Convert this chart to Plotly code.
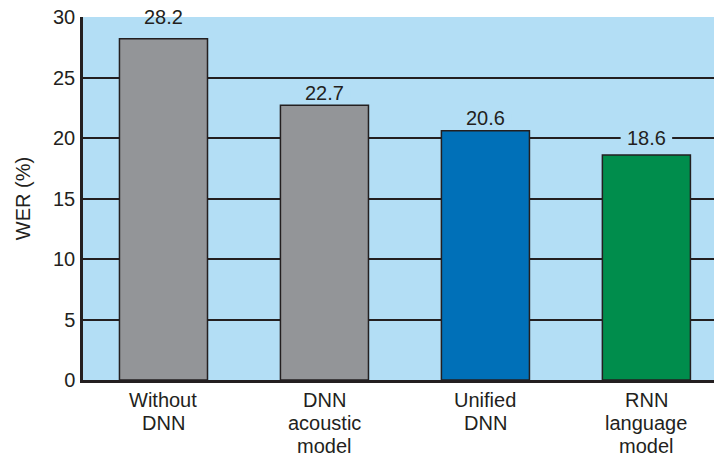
import plotly.graph_objects as go

categories = [["Without", "DNN"], ["DNN", "acoustic", "model"], ["Unified", "DNN"], ["RNN", "language", "model"]]
wer = [28.2, 22.7, 20.6, 18.6]
value_labels = ["28.2", "22.7", "20.6", "18.6"]

bar_colors = ["#939598", "#939598", "#0070b8", "#008d4c"]
plot_bg = "#b3def5"
ink = "#231f20"
FONT = "Liberation Sans, Arial, sans-serif"
FS = 20
# vertical placement of the value labels (label centre, in axis units above the bar top)
label_lift = [1.8, 1.02, 1.05, 1.4]

x = list(range(len(categories)))

fig = go.Figure()
fig.add_trace(go.Bar(
    x=x, y=wer, width=0.547,
    marker=dict(color=bar_colors, line=dict(color=ink, width=1.5)),
    hoverinfo="skip",
))

shapes = []
annotations = []
for i, (v, t, lift) in enumerate(zip(wer, value_labels, label_lift)):
    yc = v + lift
    annotations.append(dict(
        x=i, y=yc, xref="x", yref="y", text=t, showarrow=False,
        font=dict(family=FONT, size=FS, color=ink),
        xanchor="center", yanchor="middle",
    ))
    # mask the gridline behind the label
    shapes.append(dict(type="rect", xref="x", yref="y", layer="above",
                       x0=i - 0.16, x1=i + 0.16, y0=yc - 0.35, y1=min(yc + 0.35, 30),
                       fillcolor=plot_bg, line=dict(width=0)))
    if yc + 0.35 > 30:
        shapes.append(dict(type="rect", xref="x", yref="y", layer="above",
                           x0=i - 0.16, x1=i + 0.16, y0=30, y1=yc + 0.35,
                           fillcolor="white", line=dict(width=0)))

# category labels, one annotation per line (tighter line spacing than tick labels)
for i, lines in enumerate(categories):
    for k, line in enumerate(lines):
        annotations.append(dict(
            x=i, y=0, xref="x", yref="paper", text=line, showarrow=False,
            font=dict(family=FONT, size=FS, color=ink),
            xanchor="center", yanchor="middle", yshift=-20 - 23 * k,
        ))

fig.update_layout(
    width=714, height=459,
    margin=dict(l=83, r=0, t=17, b=79),
    paper_bgcolor="white", plot_bgcolor=plot_bg,
    showlegend=False,
    font=dict(family=FONT, size=FS, color=ink),
    shapes=shapes, annotations=annotations,
    xaxis=dict(
        tickvals=x, showticklabels=False, automargin=False,
        range=[-0.5, 3.42], showgrid=False, zeroline=False,
        showline=True, linecolor=ink, linewidth=3, ticks="",
        fixedrange=True,
    ),
    yaxis=dict(
        range=[0, 30], tickvals=[0, 5, 10, 15, 20, 25, 30], automargin=False,
        showgrid=True, gridcolor=ink, gridwidth=2, zeroline=False,
        showline=True, linecolor=ink, linewidth=2.5, ticks="",
        ticklabelstandoff=1,
        tickfont=dict(family=FONT, size=FS, color=ink),
        title=dict(text="WER (%)", font=dict(family=FONT, size=FS, color=ink), standoff=18),
        fixedrange=True,
    ),
)

fig.write_html("out.html")
